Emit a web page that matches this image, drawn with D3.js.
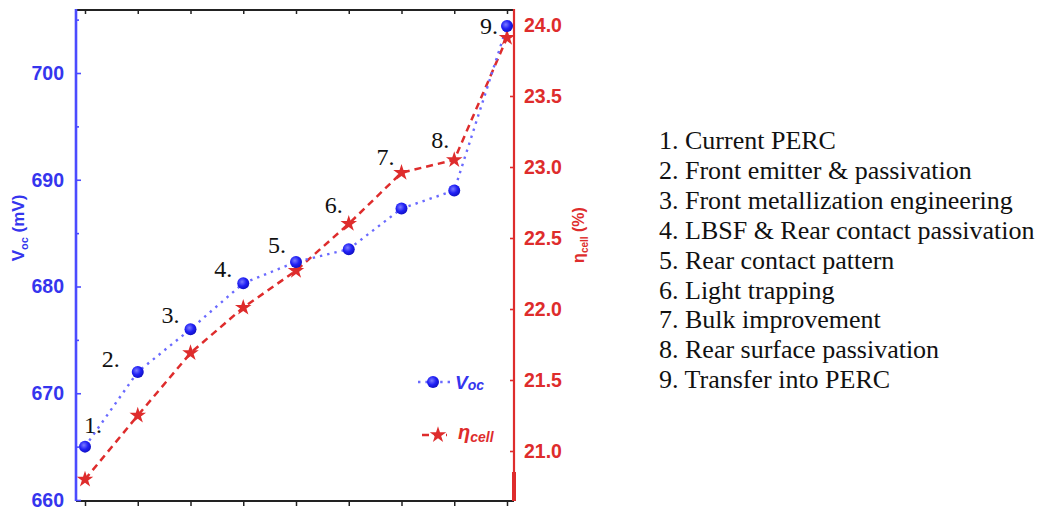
<!DOCTYPE html>
<html>
<head>
<meta charset="utf-8">
<script src="https://cdn.jsdelivr.net/npm/d3@7"></script>
<style>
  html, body { margin: 0; padding: 0; background: #fff; }
  svg { display: block; }
</style>
</head>
<body>
<svg id="chart" width="1056" height="511"></svg>
<script>
// PERC improvement steps
const steps = [1, 2, 3, 4, 5, 6, 7, 8, 9];
const stepLabels = ["1.", "2.", "3.", "4.", "5.", "6.", "7.", "8.", "9."];
// open-circuit voltage (mV)
const vocValues = [665.0, 672.0, 676.0, 680.3, 682.3, 683.5, 687.3, 689.0, 704.4];
// cell efficiency (%)
const etaValues = [20.80, 21.25, 21.69, 22.01, 22.27, 22.60, 22.96, 23.05, 23.91];
// axis ticks
const vocTicks = [660, 670, 680, 690, 700];
const vocMinorTicks = [665, 675, 685, 695, 705];
const etaTicks = [21.0, 21.5, 22.0, 22.5, 23.0, 23.5, 24.0];
// step descriptions
const stepNames = [
  "Current PERC",
  "Front emitter & passivation",
  "Front metallization engineering",
  "LBSF & Rear contact passivation",
  "Rear contact pattern",
  "Light trapping",
  "Bulk improvement",
  "Rear surface passivation",
  "Transfer into PERC"
];

// label placement: offset of each step number's right end / baseline from its upper marker
const labelOffsets = [[17, -14], [-18, -5], [-11, -6], [-11, -6], [-10, -9], [-6, -11], [-7, -8], [-5, -12], [-9, 8]];

const svg = d3.select("#chart");
const plotLeft = 76, plotRight = 514, plotTop = 10, plotBottom = 501;

const blue = "#3535ee", blueLine = "#4b4bff", red = "#de2c2c";
const sans = "'Liberation Sans', Arial, sans-serif";
const serif = "'Liberation Serif', 'Times New Roman', serif";

const x = d3.scalePoint().domain(steps).range([85, 507]);
const yV = d3.scaleLinear().domain([660, 660 + (500 - 10) / 10.675]).range([500, 10]);
const yE = d3.scaleLinear().domain([21.0 - 49 / 142, 24.0 + 15 / 142]).range([500, 10]);

// gradient for the round markers
const defs = svg.append("defs");
const grad = defs.append("radialGradient").attr("id", "ball").attr("cx", "40%").attr("cy", "38%").attr("r", "65%");
grad.append("stop").attr("offset", "0%").attr("stop-color", "#7a7aff");
grad.append("stop").attr("offset", "55%").attr("stop-color", "#2020f5");
grad.append("stop").attr("offset", "100%").attr("stop-color", "#1010c0");

// frame: top and bottom black lines
svg.append("line").attr("x1", plotLeft).attr("x2", plotRight).attr("y1", plotTop).attr("y2", plotTop)
  .attr("stroke", "#222").attr("stroke-width", 2);
svg.append("line").attr("x1", plotLeft).attr("x2", plotRight).attr("y1", plotBottom).attr("y2", plotBottom)
  .attr("stroke", "#222").attr("stroke-width", 2);

// bottom axis ticks (outward) and top ticks (inward)
const xb = svg.append("g").attr("transform", `translate(0,${plotBottom})`)
  .call(d3.axisBottom(x).tickSize(5).tickFormat(""));
xb.select(".domain").remove();
xb.selectAll(".tick line").attr("stroke", "#222").attr("stroke-width", 1.5);
const xt = svg.append("g").attr("transform", `translate(0,${plotTop})`)
  .call(d3.axisBottom(x).tickSize(4).tickFormat(""));
xt.select(".domain").remove();
xt.selectAll(".tick line").attr("stroke", "#222").attr("stroke-width", 1.5);

// left axis (Voc)
const yl = svg.append("g").attr("transform", `translate(${plotLeft},0)`)
  .call(d3.axisLeft(yV).tickValues(vocTicks).tickSize(-5).tickPadding(12).tickFormat(d3.format("d")));
yl.select(".domain").remove();
yl.selectAll(".tick line").attr("stroke", blueLine).attr("stroke-width", 1.6);
yl.selectAll(".tick text").attr("fill", blue).attr("font-family", sans).attr("font-weight", "bold").attr("font-size", 19.5);
const ylm = svg.append("g").attr("transform", `translate(${plotLeft},0)`)
  .call(d3.axisLeft(yV).tickValues(vocMinorTicks).tickSize(-3).tickFormat(""));
ylm.select(".domain").remove();
ylm.selectAll(".tick line").attr("stroke", blueLine).attr("stroke-width", 1.6);
svg.append("line").attr("x1", plotLeft).attr("x2", plotLeft).attr("y1", plotTop - 1).attr("y2", plotBottom)
  .attr("stroke", blueLine).attr("stroke-width", 2.6);

// right axis (efficiency)
const yr = svg.append("g").attr("transform", `translate(${plotRight},0)`)
  .call(d3.axisRight(yE).tickValues(etaTicks).tickSize(-4).tickPadding(10).tickFormat(d3.format(".1f")));
yr.select(".domain").remove();
yr.selectAll(".tick line").attr("stroke", red).attr("stroke-width", 1.6);
yr.selectAll(".tick text").attr("fill", red).attr("font-family", sans).attr("font-weight", "bold").attr("font-size", 19.5);
svg.append("line").attr("x1", plotRight).attr("x2", plotRight).attr("y1", plotTop - 1).attr("y2", plotBottom)
  .attr("stroke", red).attr("stroke-width", 2.2);
svg.append("line").attr("x1", plotRight).attr("x2", plotRight).attr("y1", 472).attr("y2", plotBottom)
  .attr("stroke", red).attr("stroke-width", 4);

// axis titles
const tl = svg.append("text").attr("transform", "translate(24,228) rotate(-90)")
  .attr("text-anchor", "middle").attr("font-family", sans).attr("font-weight", "bold")
  .attr("font-size", 17).attr("fill", blue);
tl.append("tspan").text("V");
tl.append("tspan").attr("font-size", 11).attr("dy", 4).text("oc");
tl.append("tspan").attr("dy", -4).text(" (mV)");

const tr = svg.append("text").attr("transform", "translate(584,235) rotate(-90)")
  .attr("text-anchor", "middle").attr("font-family", sans).attr("font-weight", "bold")
  .attr("font-size", 16).attr("fill", red);
tr.append("tspan").text("η");
tr.append("tspan").attr("font-size", 10).attr("dy", 4).text("cell");
tr.append("tspan").attr("dy", -4).text(" (%)");

// series lines
const lineV = d3.line().x((d, i) => x(steps[i])).y(d => yV(d));
const lineE = d3.line().x((d, i) => x(steps[i])).y(d => yE(d));

svg.append("path").datum(etaValues).attr("d", lineE).attr("fill", "none")
  .attr("stroke", red).attr("stroke-width", 2.5).attr("stroke-dasharray", "7 5");
svg.append("path").datum(vocValues).attr("d", lineV).attr("fill", "none")
  .attr("stroke", "#6a6aff").attr("stroke-width", 2.4).attr("stroke-dasharray", "2.4 5");

// markers
const star = d3.symbol().type(d3.symbolStar).size(85);
svg.selectAll(".star").data(etaValues).join("path").attr("class", "star")
  .attr("d", star).attr("fill", red)
  .attr("transform", (d, i) => `translate(${x(steps[i])},${yE(d)})`);
svg.selectAll(".ball").data(vocValues).join("circle").attr("class", "ball")
  .attr("cx", (d, i) => x(steps[i])).attr("cy", d => yV(d)).attr("r", 6)
  .attr("fill", "url(#ball)");

// step numbers
svg.selectAll(".step").data(stepLabels).join("text").attr("class", "step")
  .attr("x", (d, i) => x(steps[i]) + labelOffsets[i][0])
  .attr("y", (d, i) => Math.min(yV(vocValues[i]), yE(etaValues[i])) + labelOffsets[i][1])
  .attr("text-anchor", "end").attr("font-family", serif).attr("font-size", 24).attr("fill", "#111")
  .text(d => d);

// legend
const lg = svg.append("g");
lg.append("line").attr("x1", 418).attr("x2", 450).attr("y1", 382).attr("y2", 382)
  .attr("stroke", "#6a6aff").attr("stroke-width", 2.4).attr("stroke-dasharray", "2.4 5");
lg.append("circle").attr("cx", 433).attr("cy", 382).attr("r", 6).attr("fill", "url(#ball)");
const lv = lg.append("text").attr("x", 455).attr("y", 389).attr("font-family", sans)
  .attr("font-weight", "bold").attr("font-style", "italic").attr("font-size", 19).attr("fill", blue);
lv.append("tspan").text("V");
lv.append("tspan").attr("font-size", 14).attr("dy", 1).text("oc");

lg.append("line").attr("x1", 422).attr("x2", 447).attr("y1", 435).attr("y2", 435)
  .attr("stroke", red).attr("stroke-width", 2.5).attr("stroke-dasharray", "7 5");
lg.append("path").attr("d", star).attr("fill", red).attr("transform", "translate(438,435)");
const le = lg.append("text").attr("x", 458).attr("y", 439).attr("font-family", sans)
  .attr("font-weight", "bold").attr("font-style", "italic").attr("font-size", 20).attr("fill", red);
le.append("tspan").text("η");
le.append("tspan").attr("font-size", 14).attr("dy", 3).text("cell");

// step descriptions list
svg.append("g").selectAll("text").data(stepNames).join("text")
  .attr("x", 659).attr("y", (d, i) => 149 + i * 29.9)
  .attr("font-family", serif).attr("font-size", 26).attr("fill", "#111")
  .text((d, i) => `${steps[i]}. ${d}`);
</script>
</body>
</html>
